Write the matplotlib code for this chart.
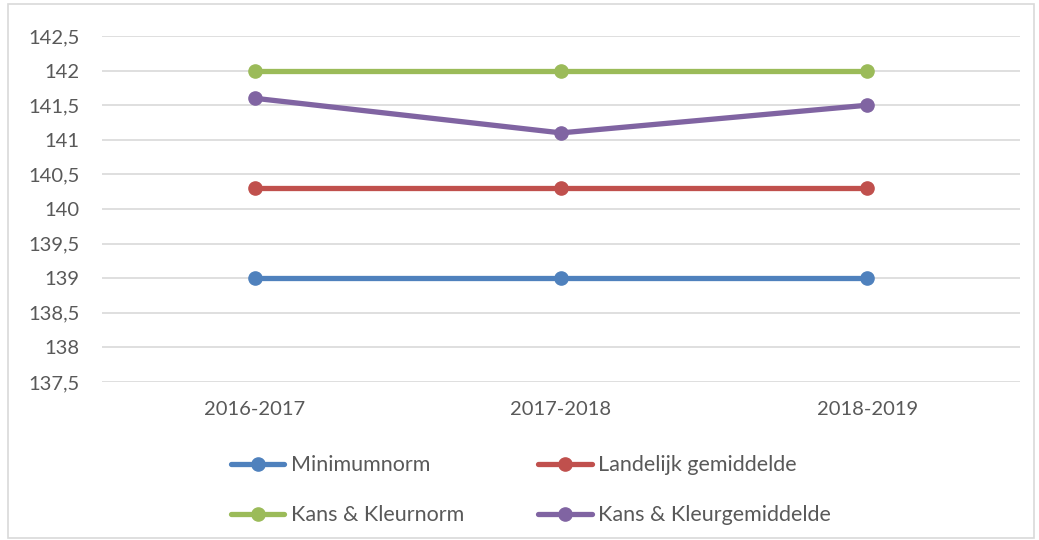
import matplotlib
matplotlib.use('Agg')
import matplotlib.pyplot as plt
from matplotlib.patches import Rectangle
from matplotlib.ticker import FuncFormatter

plt.rcParams['font.family'] = ['Lato', 'DejaVu Sans']

# data
seizoenen = ['2016-2017', '2017-2018', '2018-2019']
minimumnorm = [139, 139, 139]
landelijk_gem = [140.3, 140.3, 140.3]
kk_norm = [142, 142, 142]
kk_gem = [141.6, 141.1, 141.5]

series = [
    ('Minimumnorm', minimumnorm, '#4F81BD'),
    ('Landelijk gemiddelde', landelijk_gem, '#C0504D'),
    ('Kans & Kleurnorm', kk_norm, '#9BBB59'),
    ('Kans & Kleurgemiddelde', kk_gem, '#8064A2'),
]

tekst = '#595959'

fig = plt.figure(figsize=(10.39, 5.40), dpi=100)
ax = fig.add_axes([0.098, 0.2926, 0.884, 0.6407])

x = list(range(len(seizoenen)))
lines = {}
for naam, waarden, kleur in series:
    l, = ax.plot(x, waarden, color=kleur, lw=3.8, marker='o', ms=9.5,
                 solid_capstyle='round', label=naam, zorder=3)
    lines[naam] = l

ax.set_xlim(-0.5, len(seizoenen) - 0.5)
ax.set_ylim(137.5, 142.5)
ax.set_yticks([137.5 + 0.5 * i for i in range(11)])
ax.yaxis.set_major_formatter(FuncFormatter(lambda v, p: ('%g' % v).replace('.', ',')))
ax.set_xticks(x)
ax.set_xticklabels(seizoenen)

ax.grid(axis='y', color='#D9D9D9', lw=1.2, zorder=0)
for s in ax.spines.values():
    s.set_visible(False)
ax.tick_params(axis='both', length=0, labelsize=14.5, colors=tekst)
ax.tick_params(axis='y', pad=16)
ax.tick_params(axis='x', pad=14)

# volgorde: rij 1 = Minimumnorm, Landelijk; rij 2 = Kans & Kleurnorm, Kans & Kleurgemiddelde
volgorde = ['Minimumnorm', 'Kans & Kleurnorm', 'Landelijk gemiddelde', 'Kans & Kleurgemiddelde']
leg = fig.legend([lines[n] for n in volgorde], volgorde, ncol=2, loc='upper left',
                 bbox_to_anchor=(0.222, 0.157), frameon=False, fontsize=15.5,
                 handlelength=2.5, handletextpad=0.28, columnspacing=3.45,
                 labelspacing=1.4, borderpad=0, borderaxespad=0)
for t in leg.get_texts():
    t.set_color(tekst)

# kader om de grafiek
fig.patches.append(Rectangle((8 / 1039, 2 / 540), 1026 / 1039, 534 / 540,
                             transform=fig.transFigure, fill=False,
                             edgecolor='#D9D9D9', lw=1.2))

fig.savefig('out.png', dpi=100)
